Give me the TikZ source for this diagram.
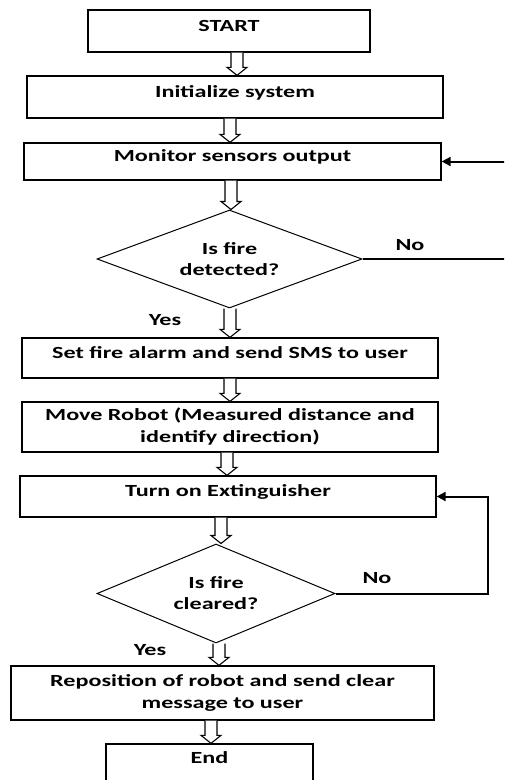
\documentclass[tikz,border=0pt]{standalone}
\usepackage{fontspec}
\setmainfont{Carlito}[FakeStretch=1.42]
\usetikzlibrary{shapes.geometric,arrows.meta,calc}
\tikzset{
  box/.style={draw=black, line width=1.3pt, rectangle, inner sep=0pt, font=\bfseries\fontsize{17}{22}\selectfont, align=center},
  one/.style={text height=10pt, text depth=10pt},
  dec/.style={draw=black, line width=1pt, diamond, aspect=2.7, inner sep=0pt, font=\bfseries\fontsize{17}{21}\selectfont, align=center},
  lbl/.style={font=\bfseries\fontsize{17}{21}\selectfont, inner sep=0pt},
  hollow/.style={draw=black, line width=1.1pt, fill=white, line join=miter},
  link/.style={draw=black, line width=2pt},
  linkarr/.style={link, -{Triangle[length=9pt, width=9pt]}},
}
\newcommand\hollowarrow[3]{%
  \draw[hollow] let \p1=(#2), \p2=(#3) in
    (#1pt-6pt,\y1) -- (#1pt-6pt,\y2+8pt) -- (#1pt-10pt,\y2+8pt) -- (#1pt,\y2)
    -- (#1pt+10pt,\y2+8pt) -- (#1pt+6pt,\y2+8pt) -- (#1pt+6pt,\y1);}
\begin{document}
\begin{tikzpicture}[x=1pt,y=-1pt]
\clip (0,0) rectangle (504,780);
\useasboundingbox (0,0) rectangle (504,780);
\fill[white] (0,0) rectangle (504,780);

\node[box, one, minimum width=282, minimum height=42] (start) at (229,31) {START};
\node[box, one, minimum width=416, minimum height=42] (init) at (235,97) {Initialize system};
\node[box, one, minimum width=417, minimum height=37] (mon) at (232.5,161.5) {Monitor sensors output};
\node[dec, minimum width=265, minimum height=98] (d1) at (229.5,259) {Is fire\\detected?};
\node[box, one, minimum width=416, minimum height=40] (set) at (230,358) {Set fire alarm and send SMS to user};
\node[box, minimum width=416, minimum height=50] (move) at (230,427) {Move Robot (Measured distance and\\identify direction)};
\node[box, one, minimum width=416, minimum height=41] (turn) at (228,496.5) {Turn on Extinguisher};
\node[dec, minimum width=238, minimum height=99] (d2) at (216,593.5) {Is fire\\cleared?};
\node[box, minimum width=423, minimum height=54] (repo) at (222.5,693) {Reposition of robot and send clear\\message to user};
\node[box, text height=10pt, text depth=28pt, minimum width=207, minimum height=56] (end) at (209.5,772) {End};

\node[lbl] (no1) at (410,245) {No};
\node[lbl] (yes1) at (165,320) {Yes};
\node[lbl] (no2) at (377,578) {No};
\node[lbl] (yes2) at (150,650) {Yes};

\coordinate (r1) at (506,259);
\coordinate (r1t) at (506,161.5);
\coordinate (r2) at (488,593.5);

\hollowarrow{237}{start.south}{init.north}
\hollowarrow{230}{init.south}{mon.north}
\hollowarrow{231}{mon.south}{d1.north}
\hollowarrow{230}{d1.south}{set.north}
\hollowarrow{230}{set.south}{move.north}
\hollowarrow{227}{move.south}{turn.north}
\hollowarrow{221}{turn.south}{d2.north}
\hollowarrow{219}{d2.south}{repo.north}
\hollowarrow{211}{repo.south}{end.north}

\draw[link] (d1.east) -- (r1);
\draw[linkarr] (r1t) -- (mon.east);
\draw[linkarr] (d2.east) -- (r2) |- (turn.east);
\end{tikzpicture}
\end{document}
